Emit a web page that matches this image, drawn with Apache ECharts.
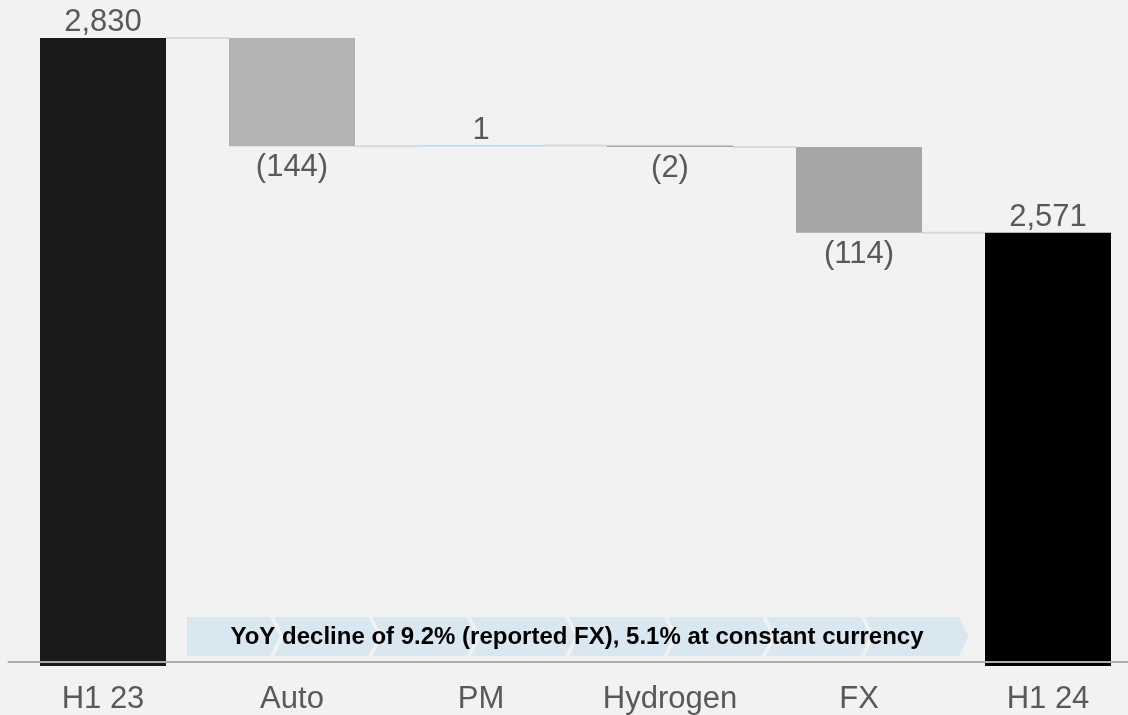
<!DOCTYPE html>
<html>
<head>
<meta charset="utf-8">
<style>
  html, body { margin: 0; padding: 0; background: #f2f2f2; }
  #chart { width: 1128px; height: 715px; }
</style>
<script src="https://cdn.jsdelivr.net/npm/echarts@6/dist/echarts.min.js"></script>
</head>
<body>
<div id="chart"></div>
<script>
// Bridge steps: opening total, movements, closing total
const categories = ['H1 23', 'Auto', 'PM', 'Hydrogen', 'FX', 'H1 24'];
const changes = [2830, -144, 1, -2, -114, 2571];
const isTotal = [true, false, false, false, false, true];
const barColors = ['#1a1a1a', '#b3b3b3', '#7cc3ee', '#a6a6a6', '#a6a6a6', '#000000'];
const bannerText = 'YoY decline of 9.2% (reported FX), 5.1% at constant currency';

// Invisible base + visible step for each bar, and the running level after each step
const base = [];
const step = [];
const level = [];
let run = 0;
changes.forEach((v, i) => {
  if (isTotal[i]) {
    base.push(0);
    step.push(v);
    run = v;
  } else {
    const next = run + v;
    base.push(Math.min(run, next));
    step.push(Math.abs(v));
    run = next;
  }
  level.push(run);
});

function fmt(v) {
  const s = Math.abs(v).toLocaleString('en-US');
  return v < 0 ? '(' + s + ')' : s;
}

const FONT = '"Liberation Sans", Arial, sans-serif';
const BAR_W = 126;

const chart = echarts.init(document.getElementById('chart'), null, { renderer: 'canvas' });

// Chevron banner along the bottom of the plot
const bannerTop = 617, bannerBottom = 656, bannerMid = (bannerTop + bannerBottom) / 2;
const chevrons = [];
const nChev = 8, firstLeft = 187, pitch = 98.4, tipDepth = 10, gapX = 4;
for (let i = 0; i < nChev; i++) {
  const left = i === 0 ? firstLeft : 274 + (i - 1) * pitch;
  const right = 274 + i * pitch - gapX;
  const pts = [];
  pts.push([left, bannerTop]);
  pts.push([right, bannerTop]);
  pts.push([right + tipDepth, bannerMid]);
  pts.push([right, bannerBottom]);
  pts.push([left, bannerBottom]);
  if (i > 0) pts.push([left + tipDepth, bannerMid]);
  chevrons.push({
    type: 'polygon',
    z: 100,
    shape: { points: pts },
    style: { fill: '#d9e8f0' }
  });
}

const option = {
  backgroundColor: '#f2f2f2',
  animation: false,
  grid: {
    left: 8.5, width: 1134, top: 38, bottom: 49,
    containLabel: false, outerBoundsMode: 'none'
  },
  xAxis: {
    type: 'category',
    data: categories,
    offset: -4,
    z: 10,
    axisLine: { show: true, lineStyle: { color: '#adadad', width: 2 } },
    axisTick: { show: false },
    axisLabel: { color: '#595959', fontSize: 31, fontFamily: FONT, margin: 22 }
  },
  yAxis: {
    type: 'value',
    min: 1995,
    max: 2830,
    show: false,
    splitLine: { show: false }
  },
  series: [
    {
      type: 'custom',
      z: 1,
      renderItem(params, api) {
        const i = api.value(0);
        const y = api.value(1);
        const p0 = api.coord([i, y]);
        const p1 = api.coord([i + 1, y]);
        return {
          type: 'line',
          shape: { x1: p0[0] + BAR_W / 2, y1: p0[1], x2: p1[0] - BAR_W / 2, y2: p1[1] },
          style: { stroke: '#d9d9d9', lineWidth: 2 }
        };
      },
      data: level.slice(0, -1).map((v, i) => [i, v])
    },
    {
      type: 'bar',
      stack: 'bridge',
      barWidth: BAR_W,
      itemStyle: { color: 'transparent' },
      emphasis: { disabled: true },
      data: base
    },
    {
      type: 'bar',
      stack: 'bridge',
      barWidth: BAR_W,
      z: 3,
      data: step.map((v, i) => ({
        value: v,
        itemStyle: { color: barColors[i] },
        label: {
          show: true,
          position: (isTotal[i] || changes[i] > 0) ? 'top' : 'bottom',
          distance: (isTotal[i] || changes[i] > 0) ? 0 : 6,
          formatter: () => fmt(changes[i]),
          color: '#595959',
          fontSize: 31,
          fontFamily: FONT
        }
      }))
    }
  ],
  graphic: chevrons.concat([
    {
      type: 'text',
      z: 101,
      x: 577,
      y: bannerMid + 1,
      style: {
        text: bannerText,
        fill: '#000000',
        font: 'bold 24px ' + FONT,
        align: 'center',
        verticalAlign: 'middle'
      }
    }
  ])
};

chart.setOption(option);
</script>
</body>
</html>
